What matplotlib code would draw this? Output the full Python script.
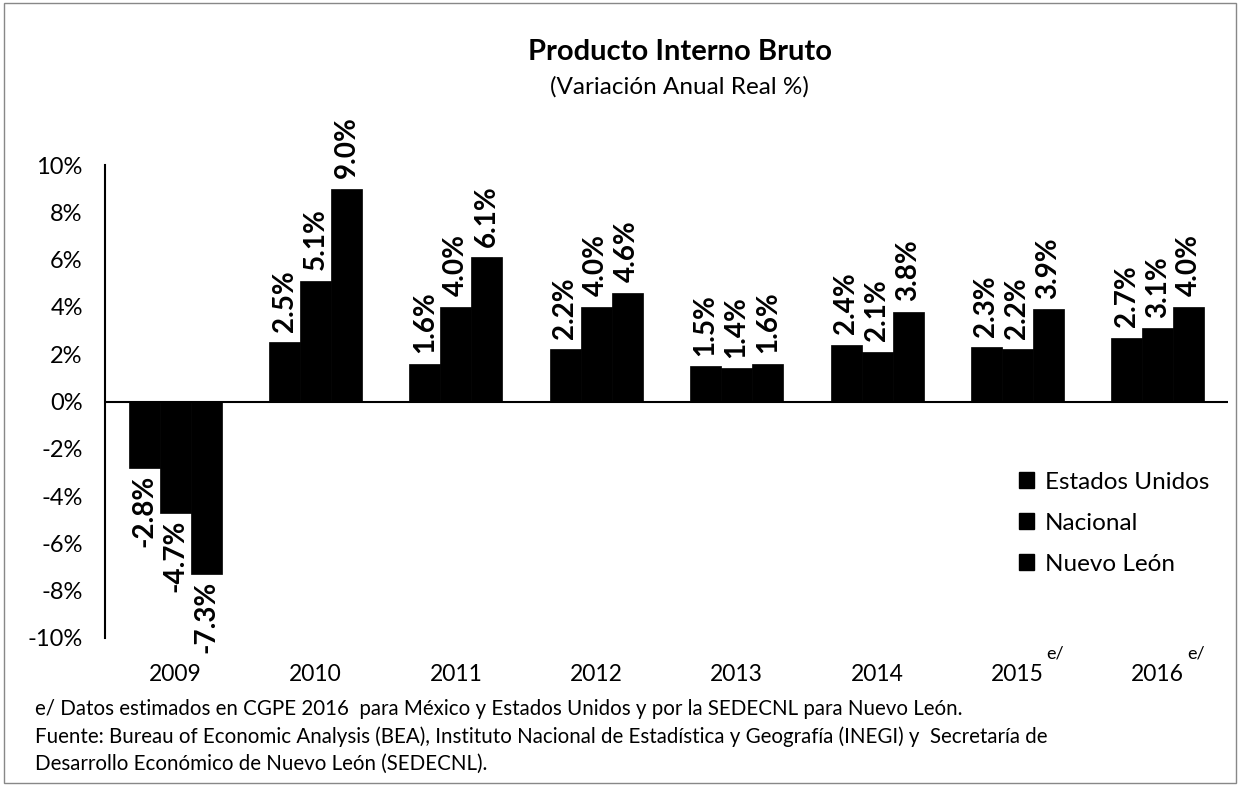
import matplotlib
matplotlib.use("Agg")
import matplotlib.pyplot as plt
from matplotlib.patches import Rectangle, Patch
import numpy as np

# ---- data ----
years = ["2009", "2010", "2011", "2012", "2013", "2014", "2015", "2016"]
estimated = [False, False, False, False, False, False, True, True]
series_names = ["Estados Unidos", "Nacional", "Nuevo León"]
estados_unidos = [-2.8, 2.5, 1.6, 2.2, 1.5, 2.4, 2.3, 2.7]
nacional = [-4.7, 5.1, 4.0, 4.0, 1.4, 2.1, 2.2, 3.1]
nuevo_leon = [-7.3, 9.0, 6.1, 4.6, 1.6, 3.8, 3.9, 4.0]
y_ticks = [-10, -8, -6, -4, -2, 0, 2, 4, 6, 8, 10]

title = "Producto Interno Bruto"
subtitle = "(Variación Anual Real %)"
footnotes = [
    "e/ Datos estimados en CGPE 2016  para México y Estados Unidos y por la SEDECNL para Nuevo León.",
    "Fuente: Bureau of Economic Analysis (BEA), Instituto Nacional de Estadística y Geografía (INEGI) y  Secretaría de",
    "Desarrollo Económico de Nuevo León (SEDECNL).",
]

FONT = "Lato"
plt.rcParams["font.family"] = [FONT, "DejaVu Sans"]

fig = plt.figure(figsize=(12.4, 7.85), dpi=100)
ax = fig.add_axes([105 / 1240, 1 - 638 / 785, (1228 - 105) / 1240, (638 - 165) / 785])

x = np.arange(len(years))
w = 0.221
all_series = [estados_unidos, nacional, nuevo_leon]
for i, (name, vals) in enumerate(zip(series_names, all_series)):
    xs = x + (i - 1) * w
    ax.bar(xs, vals, width=w, color="black", edgecolor="black", linewidth=0.5, label=name)
    for xi, v in zip(xs, vals):
        if v >= 0:
            ax.annotate(f"{v:.1f}%", (xi, v), xytext=(0, 7.5), textcoords="offset points",
                        rotation=90, ha="center", va="bottom", fontsize=20, fontweight="bold")
        else:
            ax.annotate(f"{v:.1f}%", (xi, v), xytext=(0, -5), textcoords="offset points",
                        rotation=90, ha="center", va="top", fontsize=20, fontweight="bold")

ax.set_xlim(-0.5, len(years) - 0.5)
ax.set_ylim(-10, 10)
ax.set_yticks(y_ticks)
ax.set_yticklabels([f"{t}%" for t in y_ticks], fontsize=17)
ax.set_xticks(x)
ax.set_xticklabels(years, fontsize=16.5)
ax.tick_params(axis="both", length=0)
ax.tick_params(axis="x", pad=19)
ax.tick_params(axis="y", pad=16)
for s in ["top", "right", "bottom"]:
    ax.spines[s].set_visible(False)
ax.spines["left"].set_linewidth(1.5)
ax.axhline(0, color="black", linewidth=1.5)

# superscripts e/
for xi, lab, est in zip(x, years, estimated):
    if est:
        ax.annotate("e/", (xi, 0), xycoords=("data", "axes fraction"), xytext=(21, -11),
                    textcoords="offset points", ha="left", va="center", fontsize=13)

leg = ax.legend(handles=[Patch(facecolor="black", edgecolor="black", label=n) for n in series_names],
                loc="upper left", bbox_to_anchor=(0.805, 0.372), frameon=False, fontsize=17.5,
                handlelength=0.62, handleheight=0.62, handletextpad=0.45, labelspacing=0.82,
                borderaxespad=0)

fig.text(0.548, 1 - 52 / 785, title, ha="center", va="center", fontsize=21, fontweight="bold")
fig.text(0.548, 1 - 87 / 785, subtitle, ha="center", va="center", fontsize=17.5)

for i, line in enumerate(footnotes):
    fig.text(35 / 1240, 1 - (709 + 27.5 * i) / 785, line, ha="left", va="center", fontsize=14.8)

fig.patches.append(Rectangle((4 / 1240, 2 / 785), 1232 / 1240, 780 / 785, transform=fig.transFigure,
                             fill=False, edgecolor="#888888", linewidth=1.0))

fig.savefig("out.png", dpi=100)
